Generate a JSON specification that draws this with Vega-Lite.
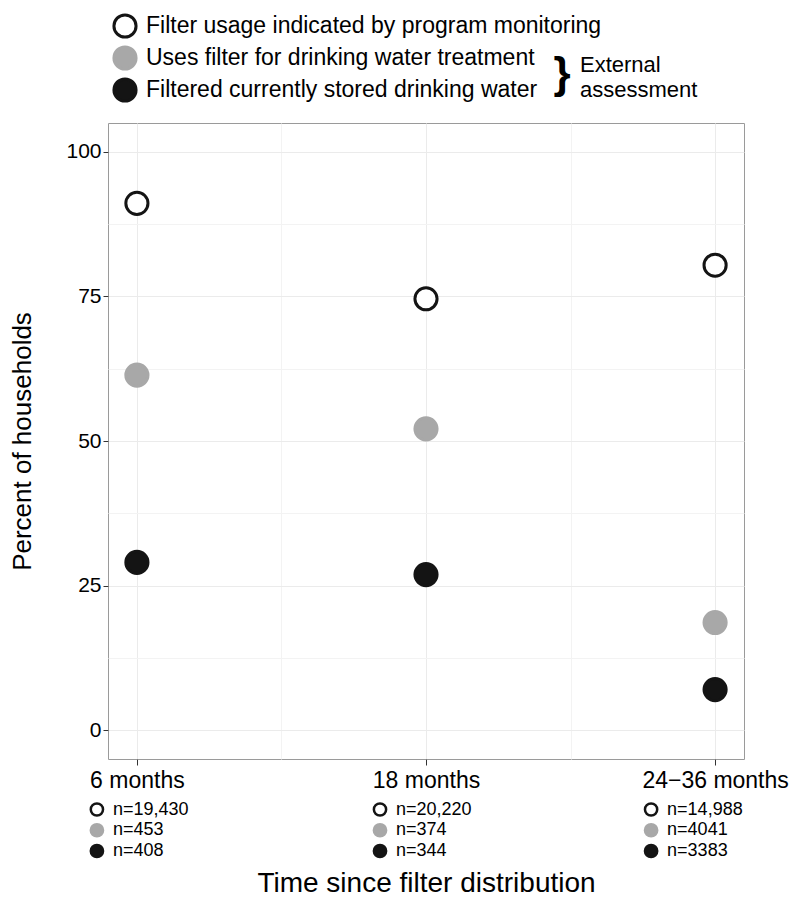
{
  "$schema": "https://vega.github.io/schema/vega-lite/v6.json",
  "width": 636,
  "height": 636,
  "autosize": {"type": "none"},
  "padding": {"left": 108, "top": 123, "right": 56, "bottom": 154},
  "background": "white",
  "config": {
    "font": "Liberation Sans",
    "view": {"stroke": "#9a9a9a", "strokeWidth": 1},
    "axis": {"labelColor": "#000000", "titleColor": "#000000", "tickColor": "#333333", "domain": false, "titleFontWeight": "normal"},
    "text": {"color": "#000000"}
  },
  "data": {
    "values": [
      {"time": "6 months", "measure": "Filter usage indicated by program monitoring", "percent": 91.1, "n_label": "n=19,430"},
      {"time": "6 months", "measure": "Uses filter for drinking water treatment", "percent": 61.4, "n_label": "n=453"},
      {"time": "6 months", "measure": "Filtered currently stored drinking water", "percent": 29.0, "n_label": "n=408"},
      {"time": "18 months", "measure": "Filter usage indicated by program monitoring", "percent": 74.6, "n_label": "n=20,220"},
      {"time": "18 months", "measure": "Uses filter for drinking water treatment", "percent": 52.1, "n_label": "n=374"},
      {"time": "18 months", "measure": "Filtered currently stored drinking water", "percent": 26.9, "n_label": "n=344"},
      {"time": "24−36 months", "measure": "Filter usage indicated by program monitoring", "percent": 80.4, "n_label": "n=14,988"},
      {"time": "24−36 months", "measure": "Uses filter for drinking water treatment", "percent": 18.6, "n_label": "n=4041"},
      {"time": "24−36 months", "measure": "Filtered currently stored drinking water", "percent": 7.0, "n_label": "n=3383"}
    ]
  },
  "layer": [
    {
      "mark": {"type": "point", "opacity": 0},
      "encoding": {
        "x": {"field": "time", "type": "nominal", "sort": null, "scale": {"type": "point", "padding": 0.1},
          "axis": {"orient": "bottom", "values": ["6 months", "18 months"], "tickOffset": 144.5, "grid": true, "gridColor": "#f3f3f3", "labels": false, "ticks": false, "domain": false, "title": null}},
        "y": {"field": "percent", "type": "quantitative", "scale": {"domain": [-5, 105], "nice": false, "zero": false},
          "axis": {"orient": "left", "values": [12.5, 37.5, 62.5, 87.5], "grid": true, "gridColor": "#f3f3f3", "labels": false, "ticks": false, "domain": false, "title": null}}
      }
    },
    {
      "mark": {"type": "point", "size": 490, "strokeWidth": 3, "opacity": 1},
      "encoding": {
        "x": {"field": "time", "type": "nominal", "sort": null,
          "axis": {"orient": "bottom", "grid": true, "gridColor": "#ebebeb", "labelAngle": 0, "tickSize": 6, "labelFontSize": 23, "labelPadding": 4,
            "title": "Time since filter distribution", "titleFontSize": 28, "titlePadding": 77}},
        "y": {"field": "percent", "type": "quantitative", "scale": {"domain": [-5, 105], "nice": false, "zero": false},
          "axis": {"orient": "left", "values": [0, 25, 50, 75, 100], "grid": true, "gridColor": "#ebebeb", "tickSize": 5, "labelPadding": 2, "labelFontSize": 21,
            "title": "Percent of households", "titleFontSize": 26, "titlePadding": 30}},
        "fill": {"field": "measure", "type": "nominal",
          "scale": {"domain": ["Filter usage indicated by program monitoring", "Uses filter for drinking water treatment", "Filtered currently stored drinking water"], "range": ["#ffffff", "#a8a8a8", "#141414"]},
          "legend": {"orient": "none", "legendX": 4, "legendY": -110, "title": null, "labelFontSize": 23, "labelLimit": 0, "labelColor": "#000000", "symbolSize": 490, "symbolStrokeWidth": 3, "symbolType": "circle", "rowPadding": -4, "labelOffset": 8, "padding": 0}},
        "stroke": {"field": "measure", "type": "nominal",
          "scale": {"domain": ["Filter usage indicated by program monitoring", "Uses filter for drinking water treatment", "Filtered currently stored drinking water"], "range": ["#141414", "#a8a8a8", "#141414"]},
          "legend": {"orient": "none", "legendX": 4, "legendY": -110, "title": null, "labelFontSize": 23, "labelLimit": 0, "labelColor": "#000000", "symbolSize": 490, "symbolStrokeWidth": 3, "symbolType": "circle", "rowPadding": -4, "labelOffset": 8, "padding": 0}}
      }
    },
    {
      "mark": {"type": "point", "size": 150, "strokeWidth": 2.5, "opacity": 1, "xOffset": {"expr": "8 - 6 * length(datum.time)"}},
      "encoding": {
        "x": {"field": "time", "type": "nominal", "sort": null, "axis": null},
        "y": {"field": "measure", "type": "nominal", "axis": null,
          "scale": {"type": "point", "padding": 0, "domain": ["Filter usage indicated by program monitoring", "Uses filter for drinking water treatment", "Filtered currently stored drinking water"], "range": [686.5, 728]}},
        "fill": {"field": "measure", "type": "nominal"},
        "stroke": {"field": "measure", "type": "nominal"}
      }
    },
    {
      "mark": {"type": "text", "align": "left", "baseline": "middle", "fontSize": 18, "dx": {"expr": "24 - 6 * length(datum.time)"}},
      "encoding": {
        "x": {"field": "time", "type": "nominal", "sort": null, "axis": null},
        "y": {"field": "measure", "type": "nominal", "axis": null,
          "scale": {"type": "point", "padding": 0, "domain": ["Filter usage indicated by program monitoring", "Uses filter for drinking water treatment", "Filtered currently stored drinking water"], "range": [686.5, 728]}},
        "text": {"field": "n_label"}
      }
    },
    {
      "data": {"values": [{"note": "}"}]},
      "mark": {"type": "text", "align": "center", "baseline": "middle", "fontSize": 44, "fontWeight": "bold", "dx": 136},
      "encoding": {
        "x": {"datum": "18 months", "type": "nominal", "axis": null},
        "y": {"datum": 113.3, "type": "quantitative", "axis": null, "scale": {"domain": [-5, 105], "nice": false, "zero": false}},
        "text": {"field": "note"}
      }
    },
    {
      "data": {"values": [{"note": ["External", "assessment"]}]},
      "mark": {"type": "text", "align": "left", "baseline": "alphabetic", "fontSize": 22, "lineHeight": 25, "dx": 154},
      "encoding": {
        "x": {"datum": "18 months", "type": "nominal", "axis": null},
        "y": {"datum": 113.8, "type": "quantitative", "axis": null, "scale": {"domain": [-5, 105], "nice": false, "zero": false}},
        "text": {"field": "note"}
      }
    }
  ],
  "resolve": {"scale": {"y": "independent"}, "axis": {"x": "independent", "y": "independent"}}
}
